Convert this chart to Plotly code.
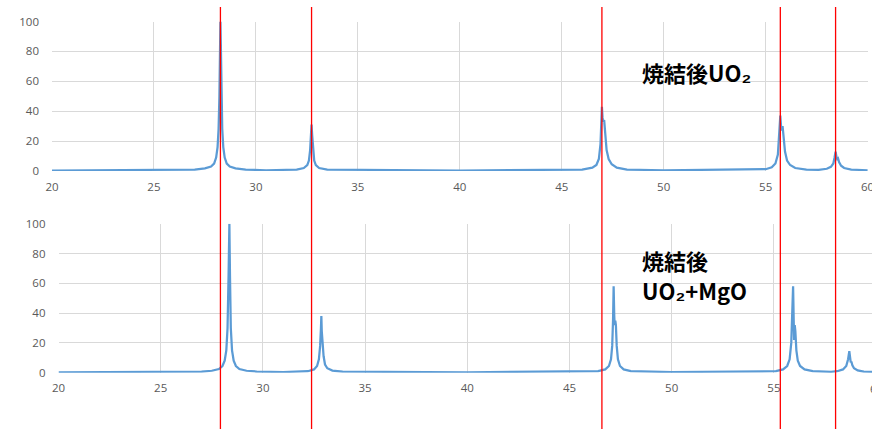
import plotly.graph_objects as go

# ---------------- data ----------------
two_theta_top = [20, 26, 27.0, 27.5, 27.8, 27.95, 28.05, 28.12, 28.17, 28.21, 28.24, 28.26, 28.28, 28.31,
                 28.35, 28.40, 28.47, 28.57, 28.72, 29.0, 29.5, 30.5,
                 32.0, 32.35, 32.52, 32.6, 32.66, 32.70, 32.73, 32.76, 32.80, 32.86, 32.94, 33.1, 33.5, 40,
                 46.0, 46.5, 46.7, 46.82, 46.9, 46.94, 46.97, 47.0, 47.03, 47.08, 47.13, 47.2, 47.3,
                 47.45, 47.7, 48.2, 50,
                 55.0, 55.3, 55.48, 55.6, 55.66, 55.72, 55.76, 55.79, 55.83, 55.88, 55.95, 56.05, 56.2,
                 56.45, 57.0, 57.6,
                 58.0, 58.2, 58.32, 58.38, 58.43, 58.48, 58.51, 58.55, 58.6, 58.7, 58.85, 59.2, 60]
intensity_top = [0.3, 0.6, 1, 1.8, 3, 5, 9, 16, 28, 50, 85, 100, 85, 50,
                 28, 16, 9, 5, 3, 1.8, 1, 0.5,
                 1, 2, 4, 7, 14, 24, 31, 24, 14, 7, 4, 2, 1, 0.3,
                 1, 2.2, 4, 8, 18, 30, 43, 36, 33, 34, 25, 14, 8,
                 4.5, 2.2, 1, 0.5,
                 1.2, 2.5, 5, 11, 22, 37, 29, 27, 30, 22, 13, 7, 4,
                 2, 1, 0.8,
                 1.5, 2.8, 5, 9, 13, 9, 8, 8.5, 6, 3.5, 2, 1, 0.5]

two_theta_bottom = [20, 26, 27.0, 27.5, 27.85, 28.02, 28.13, 28.21, 28.27, 28.32, 28.36, 28.39, 28.43,
                    28.49, 28.57, 28.68, 28.85, 29.2, 29.7, 31,
                    32.2, 32.5, 32.65, 32.74, 32.8, 32.84, 32.86, 32.88, 32.9, 32.93, 32.97, 33.04,
                    33.15, 33.4, 33.9, 40,
                    46.4, 46.75, 46.93, 47.03, 47.09, 47.13, 47.16, 47.19, 47.21, 47.24, 47.27, 47.31,
                    47.37, 47.47, 47.65, 48.0, 50,
                    55.1, 55.45, 55.65, 55.77, 55.85, 55.9, 55.94, 55.97, 55.99, 56.02, 56.05, 56.1,
                    56.17, 56.28, 56.5, 56.9, 57.8,
                    58.1, 58.38, 58.54, 58.63, 58.69, 58.73, 58.76, 58.79, 58.84, 58.92, 59.1, 59.4, 60]
intensity_bottom = [0.3, 0.5, 0.8, 1.3, 2.5, 4.5, 8, 15, 30, 65, 100, 65, 30,
                    15, 8, 4.5, 2.5, 1.3, 0.8, 0.4,
                    1, 2.2, 4.5, 9, 18, 30, 38, 28, 23, 21, 11, 5.5,
                    3, 1.4, 0.7, 0.3,
                    1, 2.2, 4.5, 9, 18, 35, 58, 38, 32, 35, 32, 18,
                    9, 4.5, 2.2, 1, 0.4,
                    1, 2.2, 4.5, 9, 20, 38, 58, 35, 22, 32, 28, 15,
                    8, 4.5, 2.2, 1, 0.6,
                    1, 2.2, 4.5, 9, 14.5, 9, 7, 7.5, 5, 3, 1.5, 0.8, 0.5]

reference_peaks = [28.26, 32.73, 46.97, 55.72, 58.43]   # red reference lines (top axis scale)

x_ticks = [20, 25, 30, 35, 40, 45, 50, 55, 60]
y_ticks = [0, 20, 40, 60, 80, 100]

label_top = "焼結後UO₂"
label_bottom_1 = "焼結後"
label_bottom_2 = "UO₂+MgO"

# ---------------- figure ----------------
W, H = 872, 429
line_color = "#5b9bd5"
grid_color = "#d9d9d9"
tick_font = dict(family="Open Sans, Noto Sans, sans-serif", size=11.5, color="#595959")

fig = go.Figure()
fig.add_trace(go.Scatter(x=two_theta_top, y=intensity_top, mode="lines",
                         line=dict(color=line_color, width=2.25), xaxis="x", yaxis="y",
                         showlegend=False, hoverinfo="skip"))
fig.add_trace(go.Scatter(x=two_theta_bottom, y=intensity_bottom, mode="lines",
                         line=dict(color=line_color, width=2.25), xaxis="x2", yaxis="y2",
                         showlegend=False, hoverinfo="skip"))

def px_x(p):
    return p / W

def px_y(p):
    return (H - p) / H

axis_common = dict(showgrid=True, gridcolor=grid_color, gridwidth=1, zeroline=False,
                   showline=False, tickfont=tick_font, automargin=False, fixedrange=True,
                   ticklabeloverflow="allow")

fig.update_layout(
    width=W, height=H,
    margin=dict(l=0, r=0, t=0, b=0),
    paper_bgcolor="white", plot_bgcolor="white",
    template="none",
    xaxis=dict(domain=[px_x(52), px_x(868)], range=[20, 60.02], tickvals=x_ticks,
               anchor="y", ticks="", ticklabelstandoff=7, **axis_common),
    yaxis=dict(domain=[px_y(171), px_y(21.5)], range=[0, 100], tickvals=y_ticks,
               anchor="x", ticks="", ticklabelstandoff=12, **axis_common),
    xaxis2=dict(domain=[px_x(58.5), 1.0], range=[20, 59.8], tickvals=x_ticks[:-1],
                anchor="y2", ticks="", ticklabelstandoff=7, **axis_common),
    yaxis2=dict(domain=[px_y(372.7), px_y(223.7)], range=[0, 100], tickvals=y_ticks,
                anchor="x2", ticks="", ticklabelstandoff=12, **axis_common),
)

# partially visible "60" label of the lower axis (cut by the picture edge, as in the reference)
fig.add_annotation(text="60", xref="paper", yref="paper", x=px_x(876), y=px_y(388.3),
                   xanchor="center", yanchor="middle", showarrow=False, font=tick_font)

# red reference lines spanning both panels
for xv in reference_peaks:
    fig.add_shape(type="line", xref="x", yref="paper", x0=xv, x1=xv,
                  y0=0, y1=px_y(7), line=dict(color="#ff0000", width=1.3), layer="above")

label_font = dict(family="Noto Sans CJK JP, sans-serif", size=22, color="black")
fig.add_annotation(text=f"<b>{label_top}</b>", xref="paper", yref="paper",
                   x=px_x(640), y=px_y(72), xanchor="left", yanchor="middle",
                   showarrow=False, font=label_font)
fig.add_annotation(text=f"<b>{label_bottom_1}</b>", xref="paper", yref="paper",
                   x=px_x(640), y=px_y(260), xanchor="left", yanchor="middle",
                   showarrow=False, font=label_font)
fig.add_annotation(text=f"<b>{label_bottom_2}</b>", xref="paper", yref="paper",
                   x=px_x(640), y=px_y(290), xanchor="left", yanchor="middle",
                   showarrow=False, font=label_font)

fig.write_html("out.html", config={"displayModeBar": False})
